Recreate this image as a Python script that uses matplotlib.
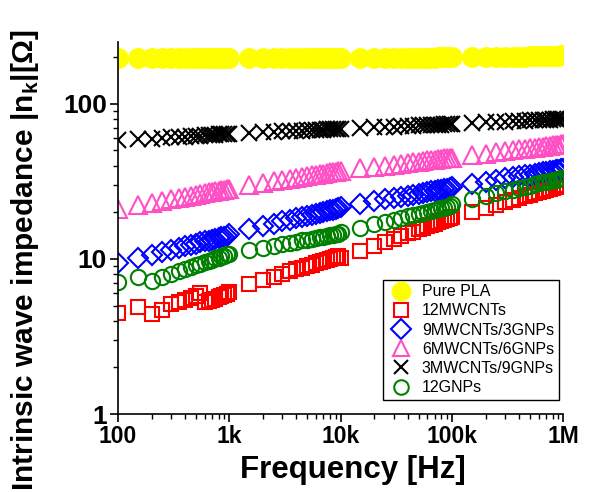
#!/usr/bin/env python3
""" Intrinsic wave impedance vs frequency for PLA composites.
"""
import matplotlib
matplotlib.use('Agg')
import matplotlib.pyplot as plt
from matplotlib.ticker import FixedLocator, LogLocator, NullFormatter

plt.rcParams['font.family'] = ['Liberation Sans', 'DejaVu Sans']
plt.rcParams['mathtext.fontset'] = 'custom'
plt.rcParams['mathtext.rm'] = 'Liberation Sans:bold'
plt.rcParams['mathtext.bf'] = 'Liberation Sans:bold'

# frequency sweep, 18 points per decade (linear steps) plus the last point
freq = [100, 150, 200, 250, 300, 350, 400, 450, 500, 550, 600, 650, 700, 750, 800, 850, 900, 950,
        1e3, 1.5e3, 2e3, 2.5e3, 3e3, 3.5e3, 4e3, 4.5e3, 5e3, 5.5e3, 6e3, 6.5e3, 7e3, 7.5e3, 8e3, 8.5e3, 9e3, 9.5e3,
        1e4, 1.5e4, 2e4, 2.5e4, 3e4, 3.5e4, 4e4, 4.5e4, 5e4, 5.5e4, 6e4, 6.5e4, 7e4, 7.5e4, 8e4, 8.5e4, 9e4, 9.5e4,
        1e5, 1.5e5, 2e5, 2.5e5, 3e5, 3.5e5, 4e5, 4.5e5, 5e5, 5.5e5, 6e5, 6.5e5, 7e5, 7.5e5, 8e5, 8.5e5, 9e5, 9.5e5,
        1e6]

pure_pla = [198, 197, 196, 196, 196, 196, 196, 196, 196, 196, 197, 197, 197, 197, 197, 197, 197, 197,
            197, 197, 197, 197, 197, 197, 197, 197, 197, 197, 197, 197, 197, 197, 197, 197, 197, 198,
            198, 198, 198, 198, 198, 198, 198, 198, 198, 198, 198, 198, 198, 199, 199, 199, 199, 199,
            199, 199, 200, 200, 200, 201, 201, 201, 202, 202, 202, 203, 203, 203, 204, 204, 204, 205,
            205]
mwcnt12 = [4.5, 4.9, 4.4, 4.7, 5.1, 5.3, 5.4, 5.6, 5.8, 6.0, 5.3, 5.35, 5.45, 5.55, 5.65, 5.75, 5.85, 5.95,
           6.1, 6.9, 7.3, 7.7, 8.0, 8.3, 8.6, 8.8, 9.0, 9.2, 9.4, 9.5, 9.7, 9.9, 10.0, 10.1, 10.3, 10.4,
           10.2, 11.3, 12.2, 12.9, 13.5, 14.1, 14.6, 15.0, 15.5, 15.8, 16.2, 16.6, 16.9, 17.2, 17.5, 17.7, 18.0, 18.3,
           18.5, 20.1, 21.4, 22.4, 23.3, 24.1, 24.7, 25.4, 25.9, 26.5, 26.9, 27.4, 27.8, 28.2, 28.6, 29.0, 29.3, 29.7,
           30.0]
mw9_gnp3 = [9.4, 10.1, 10.6, 11.1, 11.4, 11.8, 12.1, 12.3, 12.5, 12.8, 13.0, 13.1, 13.3, 13.5, 13.6, 13.8, 13.9, 14.1,
            14.5, 15.5, 16.3, 16.9, 17.5, 17.9, 18.3, 18.7, 19.0, 19.3, 19.6, 19.9, 20.1, 20.4, 20.6, 20.8, 21.0, 21.2,
            21.5, 22.6, 23.5, 24.2, 24.7, 25.2, 25.6, 26.0, 26.4, 26.7, 27.0, 27.3, 27.5, 27.8, 28.0, 28.2, 28.4, 28.6,
            29.0, 30.4, 31.5, 32.3, 33.0, 33.6, 34.1, 34.6, 35.0, 35.4, 35.8, 36.1, 36.4, 36.7, 37.0, 37.3, 37.5, 37.8,
            38.0]
mw6_gnp6 = [21.0, 22.1, 23.0, 23.7, 24.3, 24.8, 25.2, 25.6, 25.9, 26.3, 26.6, 26.8, 27.1, 27.4, 27.6, 27.8, 28.0, 28.2,
            28.4, 29.8, 30.8, 31.6, 32.2, 32.8, 33.3, 33.8, 34.2, 34.5, 34.9, 35.2, 35.5, 35.8, 36.1, 36.3, 36.6, 36.8,
            37.0, 38.3, 39.2, 40.0, 40.6, 41.2, 41.6, 42.0, 42.4, 42.8, 43.1, 43.4, 43.7, 43.9, 44.2, 44.4, 44.6, 44.8,
            45.0, 46.6, 47.8, 48.7, 49.5, 50.2, 50.8, 51.3, 51.8, 52.2, 52.6, 53.0, 53.3, 53.6, 53.9, 54.2, 54.5, 54.8,
            55.0]
mw3_gnp9 = [58.0, 59.0, 59.7, 60.3, 60.8, 61.2, 61.5, 61.9, 62.1, 62.4, 62.6, 62.8, 63.0, 63.2, 63.4, 63.6, 63.7, 63.9,
            64.0, 64.9, 65.5, 65.9, 66.3, 66.7, 67.0, 67.2, 67.5, 67.7, 67.9, 68.0, 68.2, 68.4, 68.5, 68.6, 68.8, 68.9,
            69.0, 69.9, 70.5, 71.0, 71.3, 71.7, 72.0, 72.2, 72.5, 72.7, 72.9, 73.0, 73.2, 73.4, 73.5, 73.6, 73.8, 73.9,
            74.0, 75.0, 75.8, 76.3, 76.8, 77.2, 77.6, 77.9, 78.1, 78.4, 78.6, 78.8, 79.0, 79.2, 79.4, 79.6, 79.7, 79.9,
            80.0]
gnp12 = [7.1, 7.6, 7.2, 7.6, 8.0, 8.3, 8.6, 8.9, 9.1, 9.3, 9.5, 9.7, 9.9, 10.1, 10.2, 10.4, 10.5, 10.7,
         10.8, 11.4, 11.8, 12.2, 12.5, 12.7, 12.9, 13.2, 13.3, 13.5, 13.7, 13.8, 13.9, 14.1, 14.2, 14.3, 14.4, 14.5,
         14.8, 15.9, 16.7, 17.3, 17.9, 18.4, 18.8, 19.2, 19.5, 19.8, 20.1, 20.4, 20.7, 20.9, 21.2, 21.4, 21.6, 21.8,
         22.7, 24.3, 25.5, 26.5, 27.3, 28.0, 28.6, 29.2, 29.7, 30.2, 30.7, 31.1, 31.5, 31.8, 32.2, 32.5, 32.8, 33.1,
         33.4]

x_ticks = [100, 1e3, 1e4, 1e5, 1e6]
x_labels = ['100', '1k', '10k', '100k', '1M']
y_ticks = [1, 10, 100]
y_labels = ['1', '10', '100']


def main() -> None:
    fig = plt.figure(figsize=(5.92, 4.92), dpi=100)
    ax = fig.add_axes([0.1993, 0.1585, 0.7525, 0.756])

    ax.plot(freq, pure_pla, ls='None', marker='o', ms=14, mfc='#ffff00', mec='#ffff00',
            label='Pure PLA')
    ax.plot(freq, mwcnt12, ls='None', marker='s', ms=10.5, mfc='none', mec='#ff0000', mew=1.5,
            label='12MWCNTs')
    ax.plot(freq, mw9_gnp3, ls='None', marker='D', ms=10.5, mfc='none', mec='#0000ff', mew=1.5,
            label='9MWCNTs/3GNPs')
    ax.plot(freq, mw6_gnp6, ls='None', marker='^', ms=12.5, mfc='none', mec='#ff4fc4', mew=1.5,
            label='6MWCNTs/6GNPs')
    ax.plot(freq, mw3_gnp9, ls='None', marker='x', ms=11, mfc='none', mec='#000000', mew=1.5,
            label='3MWCNTs/9GNPs')
    ax.plot(freq, gnp12, ls='None', marker='o', ms=11, mfc='none', mec='#008000', mew=1.5,
            label='12GNPs')

    ax.set_xscale('log')
    ax.set_yscale('log')
    ax.set_xlim(100, 1e6)
    ax.set_ylim(1, 250)

    ax.xaxis.set_major_locator(FixedLocator(x_ticks))
    ax.set_xticklabels(x_labels)
    ax.yaxis.set_major_locator(FixedLocator(y_ticks))
    ax.set_yticklabels(y_labels)
    ax.xaxis.set_minor_locator(LogLocator(base=10, subs=range(2, 10)))
    ax.yaxis.set_minor_locator(LogLocator(base=10, subs=range(2, 10)))
    ax.xaxis.set_minor_formatter(NullFormatter())
    ax.yaxis.set_minor_formatter(NullFormatter())

    for side in ('top', 'right'):
        ax.spines[side].set_visible(False)
    for side in ('left', 'bottom'):
        ax.spines[side].set_linewidth(1.2)
    ax.tick_params(which='major', direction='out', length=6, width=1.2, pad=2)
    ax.tick_params(axis='x', which='major', labelsize=16.5)
    ax.tick_params(axis='y', which='major', labelsize=19)
    ax.tick_params(which='minor', direction='out', length=3.5, width=1.0)
    for lbl in ax.get_xticklabels() + ax.get_yticklabels():
        lbl.set_fontweight('bold')

    ax.set_xlabel('Frequency [Hz]', fontsize=22.5, fontweight='bold')
    ax.xaxis.set_label_coords(0.528, -0.11)
    ax.set_ylabel(r'Intrinsic wave impedance |n$_\mathbf{k}$|[Ω]', fontsize=21.5,
                  fontweight='bold')
    ax.yaxis.set_label_coords(-0.172, 0.415)

    leg = ax.legend(loc='lower left', bbox_to_anchor=(0.596, 0.038), borderaxespad=0,
                    fontsize=11.5, frameon=True, fancybox=False, framealpha=1,
                    handletextpad=0.5, labelspacing=0.26, borderpad=0.3,
                    markerscale=0.95, handlelength=1.6)
    leg.get_frame().set_edgecolor('black')
    leg.get_frame().set_linewidth(1.0)

    fig.savefig('out.png', dpi=100)


if __name__ == "__main__":
    main()
